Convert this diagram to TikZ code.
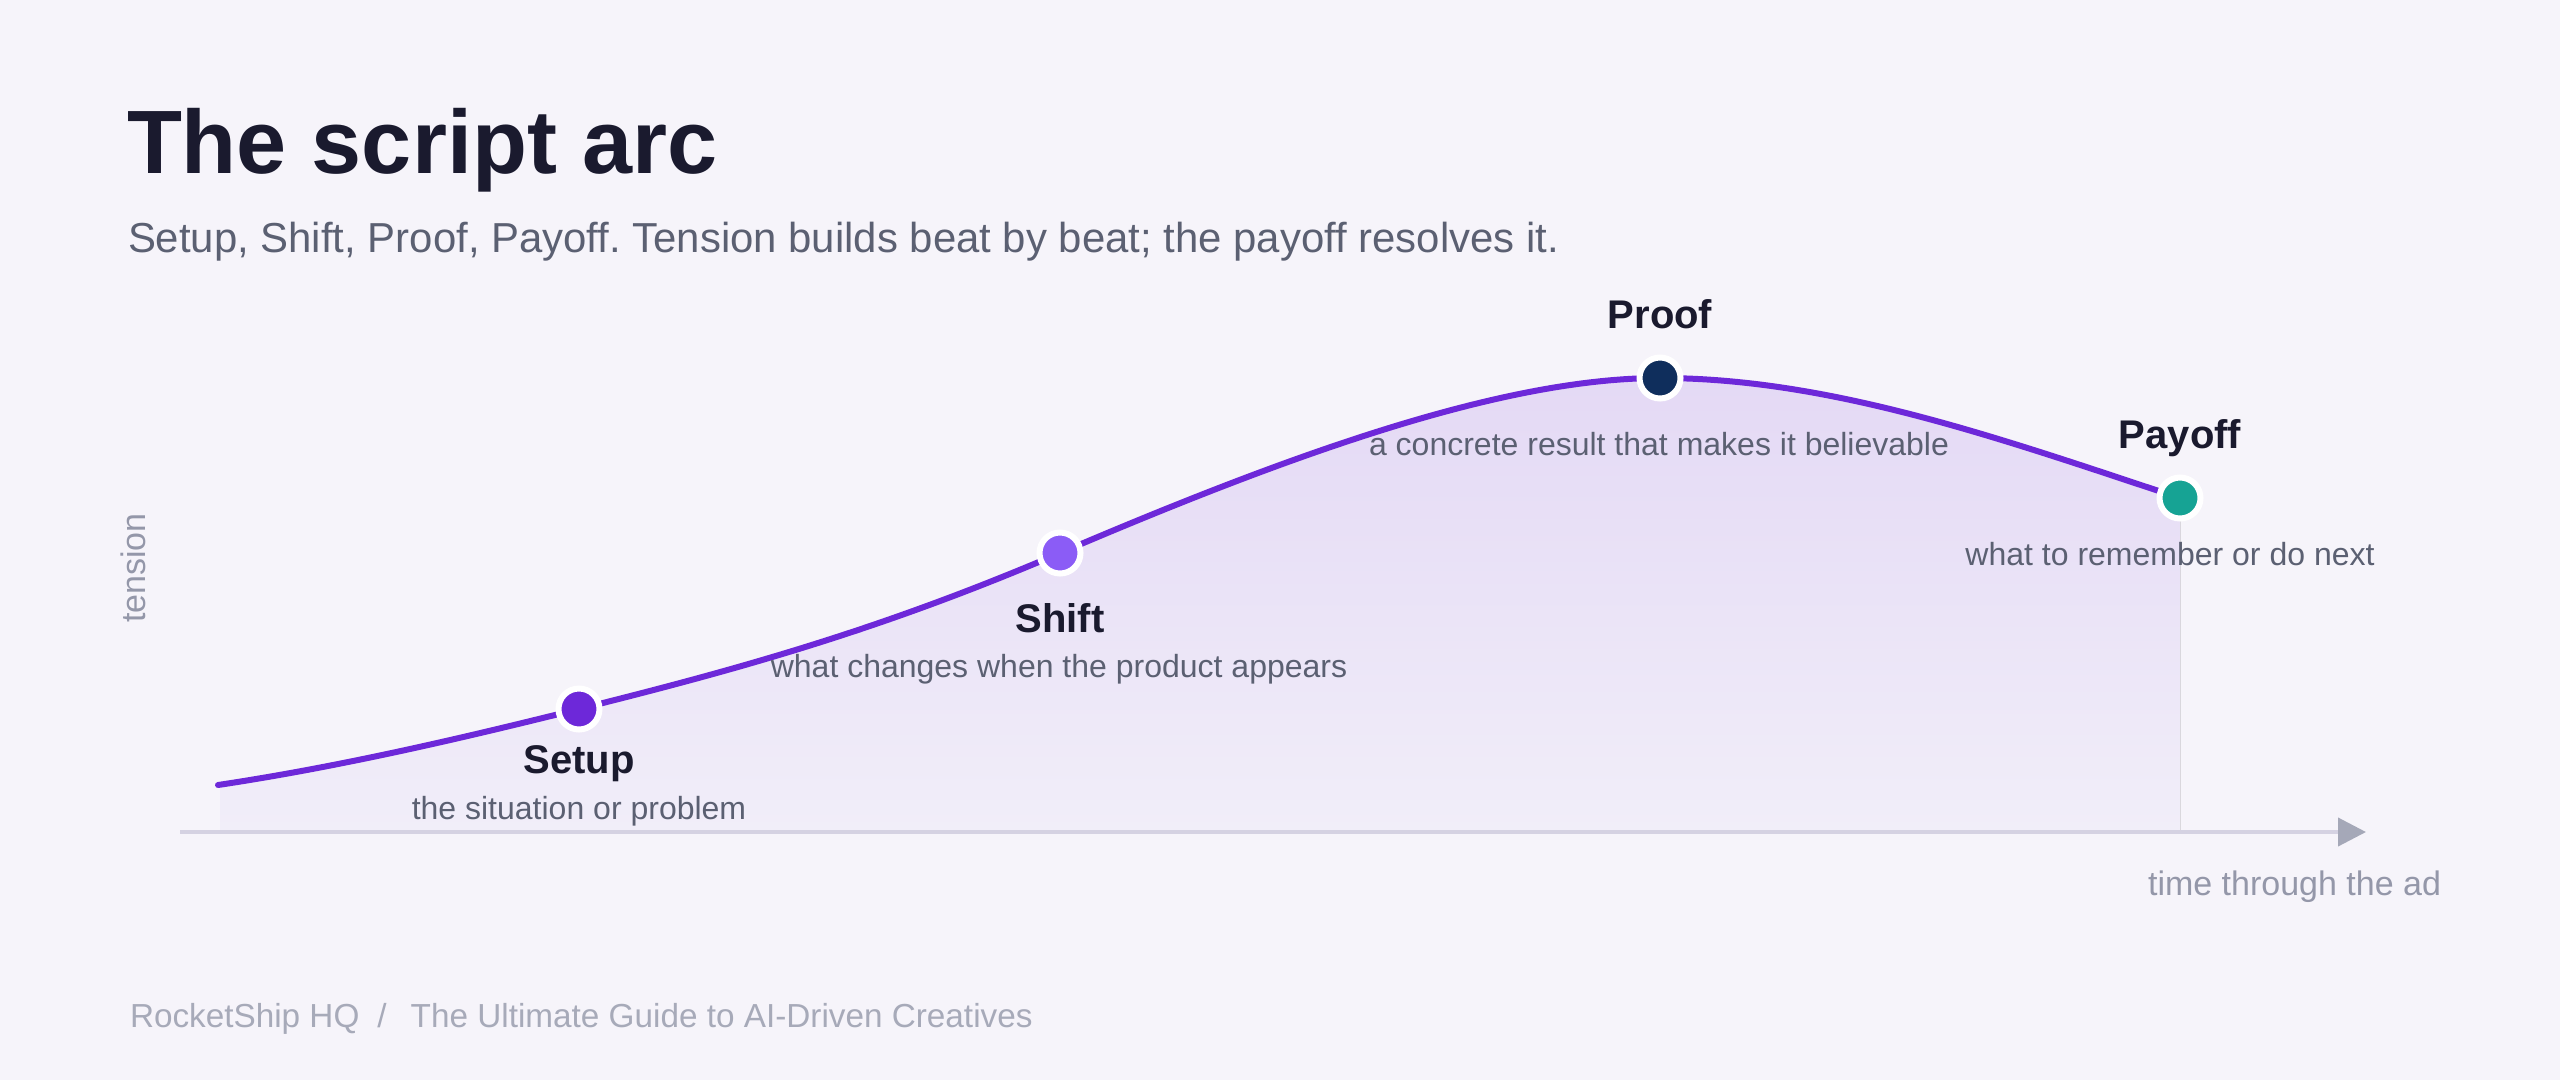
\documentclass[tikz,border=0pt]{standalone}
\usepackage{fontspec}
\setmainfont{Liberation Sans}
\usetikzlibrary{arrows.meta}
\frenchspacing
\definecolor{bgcol}{HTML}{F6F4FA}
\definecolor{titlecol}{HTML}{1A1A2E}
\definecolor{subcol}{HTML}{5B6072}
\definecolor{axislab}{HTML}{9497A9}
\definecolor{footcol}{HTML}{A7AAB9}
\definecolor{curvecol}{HTML}{6D28D9}
\definecolor{shiftcol}{HTML}{8B5CF6}
\definecolor{proofcol}{HTML}{0F2E5C}
\definecolor{payoffcol}{HTML}{16A394}
\definecolor{axiscol}{HTML}{D5D2E2}
\definecolor{arrowcol}{HTML}{A5A8B8}
\definecolor{filltop}{HTML}{E4D9F5}
\definecolor{fillbot}{HTML}{F1EEF9}
\tikzset{
  txt/.style={inner sep=0pt, outer sep=0pt},
  beatlabel/.style={txt, anchor=base, text=titlecol, font=\fontsize{40}{48}\selectfont\bfseries},
  beatsub/.style={txt, anchor=base, text=subcol, font=\fontsize{32}{38}\selectfont},
  beatdot/.style={circle, minimum size=41pt, inner sep=0pt, draw=white, line width=6pt},
  arcline/.style={draw=curvecol, line width=6pt, line cap=round},
  axisline/.style={draw=axiscol, line width=4pt},
}
\begin{document}
\begin{tikzpicture}[x=1pt,y=-1pt]
\fill[bgcol] (0,0) rectangle (2560,1080);
\useasboundingbox (0,0) rectangle (2560,1080);

% title and subtitle
\node[txt, anchor=base west, text=titlecol, font=\fontsize{90}{108}\selectfont\bfseries] (title) at (127,173) {The script arc};
\node[txt, anchor=base west, text=subcol, font=\fontsize{41.9}{50}\selectfont] (subtitle) at (128,252) {Setup, Shift, Proof, Payoff. Tension builds beat by beat; the payoff resolves it.};

% beat positions
\coordinate (start) at (218,785);
\coordinate (pSetup) at (579,709);
\coordinate (pShift) at (1060,553);
\coordinate (pProof) at (1660,378);
\coordinate (pPayoff) at (2180,498);
\coordinate (fillR) at (2180,832);
\coordinate (fillL) at (220,832);

% area under the arc
\fill[top color=filltop, bottom color=fillbot]
  (220,785) .. controls (338,767) and (459,739) .. (pSetup)
  .. controls (739,669) and (880,630) .. (pShift)
  .. controls (1310,446) and (1510,378) .. (pProof)
  .. controls (1833,378) and (2007,441) .. (pPayoff)
  -- (fillR) -- (fillL) -- cycle;

% axis
\coordinate (ax0) at (180,832);
\coordinate (ax1) at (2366,832);
\draw[axisline, -{Triangle[length=28pt,width=28pt,color=arrowcol,fill=arrowcol]}] (ax0) -- (ax1);

% arc
\draw[arcline]
  (start) .. controls (338,767) and (459,739) .. (pSetup)
  .. controls (739,669) and (880,630) .. (pShift)
  .. controls (1310,446) and (1510,378) .. (pProof)
  .. controls (1833,378) and (2007,441) .. (pPayoff);

% dots
\node[beatdot, fill=curvecol] (setup) at (pSetup) {};
\node[beatdot, fill=shiftcol] (shift) at (pShift) {};
\node[beatdot, fill=proofcol] (proof) at (pProof) {};
\node[beatdot, fill=payoffcol] (payoff) at (pPayoff) {};

% labels
\node[beatlabel] (setupL) at (579,773) {Setup};
\node[beatsub] (setupS) at (579,819) {the situation or problem};
\node[beatlabel] (shiftL) at (1060,632) {Shift};
\node[beatsub] (shiftS) at (1059,677) {what changes when the product appears};
\node[beatlabel] (proofL) at (1660,328) {Proof};
\node[beatsub] (proofS) at (1659,455) {a concrete result that makes it believable};
\node[beatlabel] (payoffL) at (2180,448) {Payoff};
\node[beatsub] (payoffS) at (2170,565) {what to remember or do next};

% axis labels
\node[txt, anchor=base, rotate=90, text=axislab, font=\fontsize{34}{40}\selectfont] (tension) at (145,568) {tension};
\node[txt, anchor=base east, text=axislab, font=\fontsize{34}{40}\selectfont] (timeL) at (2441,895) {time through the ad};

% footer
\node[txt, anchor=base west, text=footcol, font=\fontsize{33.3}{40}\selectfont] (footer) at (130,1027) {RocketShip HQ\hspace{18pt}/\hspace{24pt}The Ultimate Guide to AI-Driven Creatives};
\end{tikzpicture}
\end{document}
